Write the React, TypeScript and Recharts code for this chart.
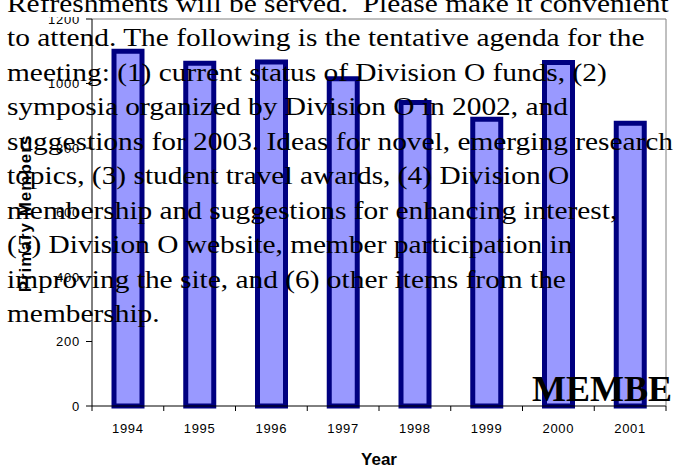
import { BarChart, Bar, XAxis, YAxis, ReferenceLine } from "recharts";

const years = ["1994", "1995", "1996", "1997", "1998", "1999", "2000", "2001"];
const members = [1100, 1063, 1067, 1015, 941, 889, 1065, 877];
const yTicks = [0, 200, 400, 600, 800, 1000, 1200];

const textLines = [
  "Refreshments will be served.  Please make it convenient",
  "to attend. The following is the tentative agenda for the",
  "meeting: (1) current status of Division O funds, (2)",
  "symposia organized by Division O in 2002, and",
  "suggestions for 2003. Ideas for novel, emerging research",
  "topics, (3) student travel awards, (4) Division O",
  "membership and suggestions for enhancing interest,",
  "(5) Division O website, member participation in",
  "improving the site, and (6) other items from the",
  "membership.",
];

const data = years.map((year, i) => ({ year, members: members[i] }));

const W = 676;
const H = 466;
const CHART_TOP = 17;
const PLOT_LEFT = 92;
const PLOT_RIGHT = 666;
const HALF_BAND = (PLOT_RIGHT - PLOT_LEFT) / years.length / 2;
const SANS = "'Liberation Sans', Arial, sans-serif";
const SERIF = "'Liberation Serif', 'Times New Roman', serif";

function YearTick(props: any) {
  const { x, y, payload, index } = props;
  const axisY = y - 17;
  return (
    <g>
      <line x1={x - HALF_BAND} x2={x - HALF_BAND} y1={axisY} y2={axisY + 5} stroke="#000" />
      {index === years.length - 1 && (
        <line x1={x + HALF_BAND} x2={x + HALF_BAND} y1={axisY} y2={axisY + 5} stroke="#000" />
      )}
      <text x={x} y={y + 9.7} textAnchor="middle" fontSize={13} fontFamily={SANS} letterSpacing={0.7} fill="#000">
        {payload.value}
      </text>
    </g>
  );
}

export default function App() {
  return (
    <div style={{ position: "absolute", left: 0, top: 0, width: W, height: H, overflow: "hidden", background: "#fff" }}>
      <div style={{ position: "absolute", left: 0, top: CHART_TOP, width: W, height: H - CHART_TOP, overflow: "hidden" }}>
        <BarChart width={W} height={H - CHART_TOP} data={data} margin={{ top: 2, right: 0, bottom: 0, left: 0 }}>
          <XAxis
            dataKey="year"
            height={60}
            tickLine={false}
            tickSize={5}
            tickMargin={12}
            interval={0}
            axisLine={{ stroke: "#000" }}
            tick={<YearTick />}
            label={() => (
              <text x={(PLOT_LEFT + PLOT_RIGHT) / 2} y={448} textAnchor="middle" fontSize={17} fontWeight="bold" fontFamily={SANS} fill="#000">
                Year
              </text>
            )}
          />
          <YAxis
            width={PLOT_LEFT}
            domain={[0, 1200]}
            ticks={yTicks}
            interval={0}
            tickSize={6}
            tickMargin={6}
            axisLine={{ stroke: "#000" }}
            tickLine={{ stroke: "#000" }}
            tick={{ fontSize: 13, fontFamily: SANS, fill: "#000", letterSpacing: 0.8 }}
            label={() => (
              <text
                x={30.5}
                y={196.5}
                transform="rotate(-90, 30.5, 196.5)"
                textAnchor="middle"
                fontSize={17}
                fontWeight="bold"
                fontFamily={SANS}
                letterSpacing={1}
                fill="#000"
              >
                Primary Members
              </text>
            )}
          />
          <YAxis yAxisId="right" orientation="right" width={10} tick={false} tickLine={false} axisLine={{ stroke: "#808080" }} />
          <ReferenceLine y={1200} stroke="#808080" />
          <Bar dataKey="members" fill="#9999FF" stroke="#000080" strokeWidth={5} barSize={28} isAnimationActive={false} />
        </BarChart>
      </div>
      <div
        style={{
          position: "absolute",
          left: 7,
          top: -13.2,
          fontFamily: SERIF,
          fontSize: 26,
          lineHeight: "34.5px",
          color: "#000",
          whiteSpace: "pre",
          transform: "scaleX(1.13)",
          transformOrigin: "0 0",
        }}
      >
        {textLines.map((line, i) => (
          <div key={i}>{line}</div>
        ))}
      </div>
      <div
        style={{
          position: "absolute",
          left: 532,
          top: 369.6,
          fontFamily: SERIF,
          fontSize: 36,
          fontWeight: "bold",
          lineHeight: "39.85px",
          color: "#000",
          whiteSpace: "pre",
        }}
      >
        MEMBE
      </div>
    </div>
  );
}
